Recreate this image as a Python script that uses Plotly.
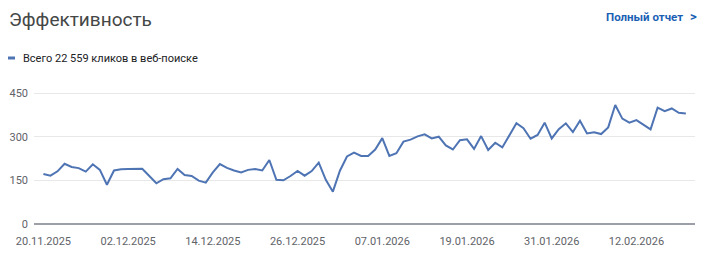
import datetime as dt
import plotly.graph_objects as go

start_date = "2025-11-20"
clicks = [172, 166, 181, 207, 196, 192, 180, 205, 186, 135,
          184, 188, 189, 189, 190, 165, 140, 154, 157, 189,
          168, 165, 149, 142, 177, 206, 193, 184, 177, 186,
          189, 184, 220, 152, 150, 165, 182, 166, 182, 211,
          152, 111, 183, 232, 245, 234, 234, 256, 295, 234,
          243, 283, 290, 301, 308, 294, 300, 270, 256, 288,
          291, 258, 302, 254, 279, 263, 306, 346, 329, 293,
          306, 348, 294, 326, 346, 316, 355, 311, 315, 309,
          332, 409, 362, 348, 357, 340, 325, 400, 388, 397,
          382, 380]
x_tick_labels = ["20.11.2025", "02.12.2025", "14.12.2025", "26.12.2025",
                 "07.01.2026", "19.01.2026", "31.01.2026", "12.02.2026"]
y_ticks = [0, 150, 300, 450]

title_text = "Эффективность"
link_text = "Полный отчет"
legend_text = "Всего 22 559 кликов в веб-поиске"

d0 = dt.datetime.strptime(start_date, "%Y-%m-%d")
dates = [d0 + dt.timedelta(days=i) for i in range(len(clicks))]
tick_vals = [dt.datetime.strptime(s, "%d.%m.%Y") for s in x_tick_labels]

W, H = 717, 277
ml, mr, mt, mb = 34, 22, 84, 53
PW, PH = W - ml - mr, H - mt - mb
px_per_day = 7.06
first_px = 43.4
x_lo = d0 - dt.timedelta(days=(first_px - ml) / px_per_day)
x_hi = x_lo + dt.timedelta(days=PW / px_per_day)


def px(xp):
    return (xp - ml) / PW


def py(yp):
    return (H - mb - yp) / PH


LINE = "#4e74b4"
FONT = "Roboto, Arial, sans-serif"

fig = go.Figure()
fig.add_trace(go.Scatter(x=dates, y=clicks, mode="lines",
                         line=dict(color=LINE, width=2), hoverinfo="skip",
                         showlegend=False))

fig.update_layout(
    width=W, height=H,
    margin=dict(l=ml, r=mr, t=mt, b=mb, autoexpand=False),
    paper_bgcolor="white", plot_bgcolor="white",
    font=dict(family=FONT, color="#5f6368", size=11),
    xaxis=dict(range=[x_lo, x_hi], tickvals=tick_vals, ticktext=x_tick_labels,
               showgrid=False, showline=False, zeroline=False, ticks="",
               ticklabelstandoff=9, tickfont=dict(size=11, color="#5f6368"),
               automargin=False),
    yaxis=dict(range=[0, 481], tickvals=y_ticks, ticktext=[str(v) for v in y_ticks],
               showgrid=True, gridcolor="#e8e8e8", gridwidth=1,
               zeroline=True, zerolinecolor="#9aa0a6", zerolinewidth=1.5,
               showline=False, ticks="", ticklabelstandoff=5,
               tickfont=dict(size=11, color="#5f6368"), automargin=False),
    annotations=[
        dict(text=title_text, x=px(7), y=py(19), xref="paper", yref="paper",
             xanchor="left", yanchor="middle", showarrow=False,
             font=dict(family=FONT, size=19, color="#444746")),
        dict(text="<b>" + link_text + "</b>", x=px(685), y=py(17), xref="paper", yref="paper",
             xanchor="right", yanchor="middle", showarrow=False,
             font=dict(family=FONT, size=11.5, color="#1a5fb4")),
        dict(text="<b>&gt;</b>", x=px(699), y=py(17), xref="paper", yref="paper",
             xanchor="right", yanchor="middle", showarrow=False,
             font=dict(family=FONT, size=13, color="#1a5fb4")),
        dict(text=legend_text, x=px(21), y=py(58), xref="paper", yref="paper",
             xanchor="left", yanchor="middle", showarrow=False,
             font=dict(family=FONT, size=11, color="#202124")),
    ],
    shapes=[dict(type="line", xref="paper", yref="paper",
                 x0=px(8), x1=px(15), y0=py(58), y1=py(58),
                 line=dict(color=LINE, width=3))],
)

fig.write_html("out.html")
